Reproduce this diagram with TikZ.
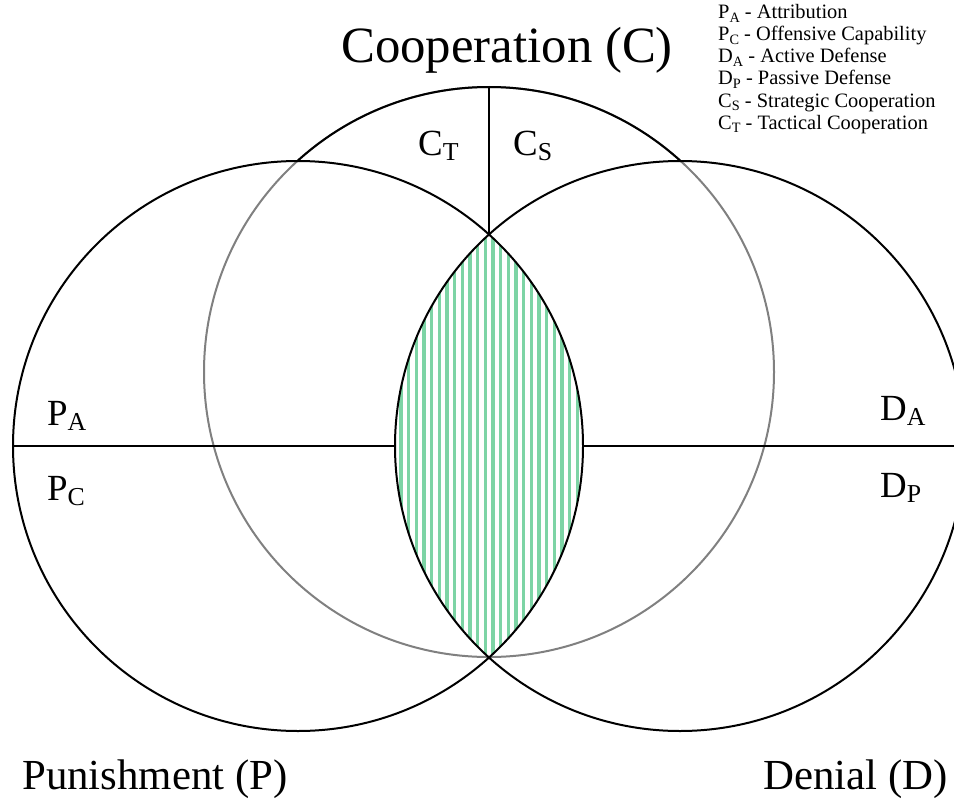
\documentclass[tikz,border=0pt]{standalone}
\usepackage{fontspec}
\setmainfont{Liberation Serif}
\newcommand\lowsub[1]{\raisebox{-0.16em}{\scalebox{0.7}{#1}}}
\begin{document}
\begin{tikzpicture}[x=1bp,y=-1bp,
  blk/.style={line width=2bp, draw=black},
  gry/.style={line width=2bp, draw={rgb,255:red,128;green,128;blue,128}},
  title/.style={font=\fontsize{51}{51}\selectfont, inner sep=0pt},
  btitle/.style={font=\fontsize{43}{43}\selectfont, inner sep=0pt},
  lab/.style={font=\fontsize{37}{37}\selectfont, inner sep=0pt, anchor=base west},
  leg/.style={font=\fontsize{20.5}{20.5}\selectfont, inner sep=0pt, anchor=base west}]
\definecolor{hatch}{RGB}{125,212,165}
\useasboundingbox (0,0) rectangle (954,811);
\clip (0,0) rectangle (954,811);
\coordinate (L) at (298,446);
\coordinate (R) at (680,446);
\coordinate (T) at (489,372);
\coordinate (top) at (489,87);
\coordinate (lensTop) at (489,234.5);
\coordinate (Lw) at (13,446);
\coordinate (Le) at (583,446);
\coordinate (Rw) at (395,446);
\coordinate (Re) at (965,446);
% hatched lens
\begin{scope}
  \clip (L) circle[radius=285];
  \clip (R) circle[radius=285];
  \foreach \k in {-12,...,14} {
    \fill[hatch] ({476+7.67*\k},220) rectangle ({479.3+7.67*\k},670);
  }
\end{scope}
% top circle (grey), black where outside the other two
\draw[gry] (T) circle[radius=285];
\begin{scope}
  \clip (0,0) rectangle (954,161);
  \draw[blk] (T) circle[radius=285];
\end{scope}
\draw[blk] (L) circle[radius=285];
\draw[blk] (R) circle[radius=285];
\draw[blk] (top) -- (lensTop);
\draw[blk] (Lw) -- (Rw);
\draw[blk] (Le) -- (Re);
% labels
\node[lab] (ct) at (418,155) {C\lowsub{T}};
\node[lab] (cs) at (513,155) {C\lowsub{S}};
\node[lab] (pa) at (47,425) {P\lowsub{A}};
\node[lab] (pc) at (47,500) {P\lowsub{C}};
\node[lab] (da) at (880,420) {D\lowsub{A}};
\node[lab] (dp) at (880,497) {D\lowsub{P}};
% titles
\node[title, anchor=base west] (coop) at (341,63) {Cooperation (C)};
\node[btitle, anchor=base west] (pun) at (22,789) {Punishment (P)};
\node[btitle, anchor=base east] (den) at (948,789) {Denial (D)};
% legend
\node[leg] (l1) at (718,19) {P\lowsub{A} - Attribution};
\node[leg] (l2) at (718,41) {P\lowsub{C} - Offensive Capability};
\node[leg] (l3) at (718,63) {D\lowsub{A} - Active Defense};
\node[leg] (l4) at (718,85) {D\lowsub{P} - Passive Defense};
\node[leg] (l5) at (718,107) {C\lowsub{S} - Strategic Cooperation};
\node[leg] (l6) at (718,129) {C\lowsub{T} - Tactical Cooperation};
\end{tikzpicture}
\end{document}
